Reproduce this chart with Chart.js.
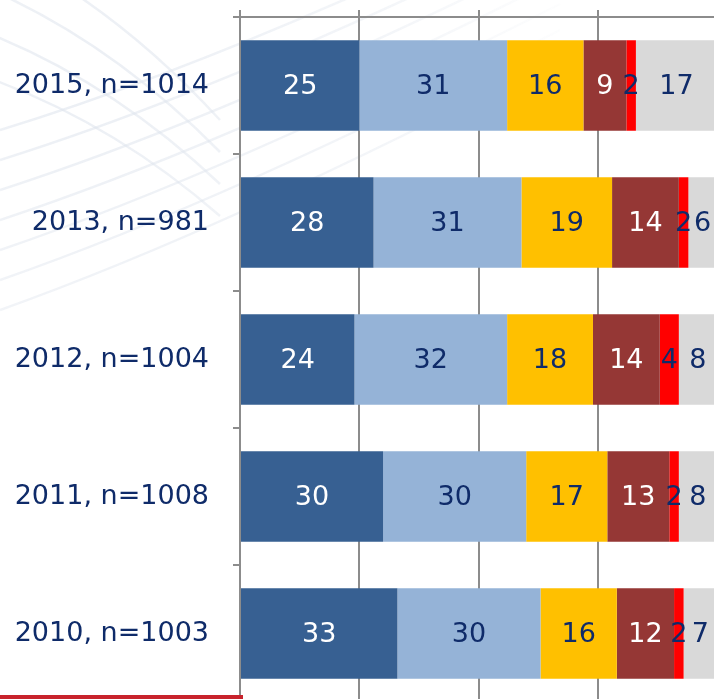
<!DOCTYPE html>
<html><head><meta charset="utf-8">
<script src="https://cdn.jsdelivr.net/npm/chart.js@4.4.0/dist/chart.umd.min.js"></script>
<style>
html,body{margin:0;padding:0;overflow:hidden;background:#fff;width:714px;height:699px;}
#wrap{position:absolute;left:0;top:0;width:720px;height:705px;}
#redline{position:absolute;left:0;top:695px;width:243px;height:4px;background:#C8232C;}
</style></head><body>
<div id="wrap"><canvas id="c" width="720" height="705"></canvas></div>
<div id="redline"></div>
<script>
// ---- data ----
const categories = ['2015, n=1014','2013, n=981','2012, n=1004','2011, n=1008','2010, n=1003'];
const series1 = [25,28,24,30,33];
const series2 = [31,31,32,30,30];
const series3 = [16,19,18,17,16];
const series4 = [9,14,14,13,12];
const series5 = [2,2,4,2,2];
const series6 = [17,6,8,8,7];
const xMin = 0, xMax = 100, xStep = 25;

const NAVY = '#0F2B69';
const GRID = '#8C8C8C';
const FONT = 'DejaVu Sans';
const FSIZE = 27;

const bgPattern = {
  id:'bgPattern',
  beforeDraw(chart){
    const ctx = chart.ctx;
    ctx.save();
    const g = ctx.createRadialGradient(80,80,0,80,80,520);
    g.addColorStop(0,'rgba(222,228,237,0.6)');
    g.addColorStop(0.6,'rgba(222,228,237,0.35)');
    g.addColorStop(1,'rgba(222,228,237,0)');
    ctx.strokeStyle = g;
    ctx.lineWidth = 2.5;
    for(let k=0;k<7;k++){
      ctx.beginPath();
      ctx.moveTo(0, 130 + k*30);
      ctx.quadraticCurveTo(230, 60 + k*28, 560, -100 + k*26);
      ctx.stroke();
    }
    for(let k=0;k<4;k++){
      ctx.beginPath();
      ctx.moveTo(-20, -60 + k*45);
      ctx.quadraticCurveTo(110, 0 + k*40, 220, 120 + k*32);
      ctx.stroke();
    }
    ctx.restore();
  }
};

const dataLabels = {
  id:'dataLabels',
  afterDatasetsDraw(chart){
    const ctx = chart.ctx;
    ctx.save();
    ctx.font = FSIZE + 'px "' + FONT + '"';
    ctx.textAlign = 'center';
    ctx.textBaseline = 'middle';
    chart.data.datasets.forEach((ds,i)=>{
      const meta = chart.getDatasetMeta(i);
      if(meta.hidden) return;
      ctx.fillStyle = ds.labelColor;
      meta.data.forEach((bar,j)=>{
        const v = ds.data[j];
        ctx.fillText(String(v), (bar.x + bar.base)/2, bar.y + 1);
      });
    });
    ctx.restore();
  }
};

const mk = (label, data, color, labelColor) => ({
  label, data, backgroundColor: color, labelColor,
  borderWidth: 0, barPercentage: 0.66, categoryPercentage: 1
});

new Chart(document.getElementById('c'), {
  type:'bar',
  data:{
    labels: categories,
    datasets:[
      mk('Series 1', series1, '#376092', '#FFFFFF'),
      mk('Series 2', series2, '#95B3D7', NAVY),
      mk('Series 3', series3, '#FFC000', NAVY),
      mk('Series 4', series4, '#953735', '#FFFFFF'),
      mk('Series 5', series5, '#FF0000', NAVY),
      mk('Series 6', series6, '#D9D9D9', NAVY)
    ]
  },
  options:{
    indexAxis:'y',
    responsive:false,
    animation:false,
    layout:{padding:{top:0,right:3,bottom:3,left:0}},
    plugins:{legend:{display:false}, tooltip:{enabled:false}},
    scales:{
      x:{
        type:'linear', position:'top', stacked:true, min:xMin, max:xMax,
        ticks:{display:false, stepSize:xStep},
        grid:{color:GRID, lineWidth:2, tickLength:7, drawTicks:true},
        border:{display:true, color:GRID, width:2},
        afterFit(s){ s.height = 17; s.paddingLeft = 0; s.paddingRight = 0; }
      },
      y:{
        type:'category', stacked:true, offset:true,
        grid:{offset:true, drawOnChartArea:false, color:GRID, lineWidth:2, tickLength:7},
        border:{display:true, color:GRID, width:2},
        ticks:{color:NAVY, font:{family:FONT, size:FSIZE}, padding:24},
        afterFit(s){ s.width = 240; s.paddingTop = 0; s.paddingBottom = 0; }
      }
    }
  },
  plugins:[bgPattern, dataLabels]
});
</script>
</body></html>
